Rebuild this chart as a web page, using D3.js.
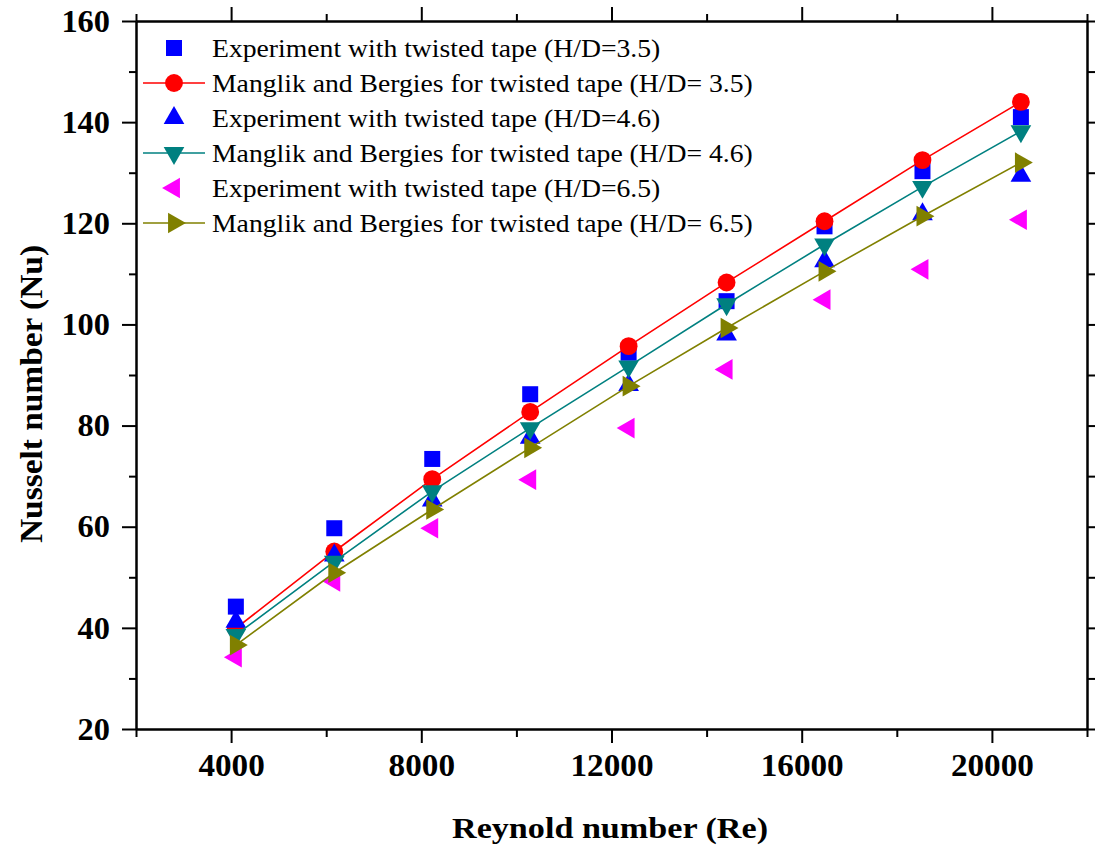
<!DOCTYPE html>
<html>
<head>
<meta charset="utf-8">
<script src="https://cdn.jsdelivr.net/npm/d3@7"></script>
<style>
  html, body { margin: 0; padding: 0; background: #fff; }
  svg { display: block; }
</style>
</head>
<body>
<svg id="chart" width="1095" height="845"></svg>
<script>
// Reynolds numbers of the nine test runs
const reynolds = [4100, 6170, 8230, 10290, 12360, 14420, 16480, 18540, 20610];

// Nusselt numbers, measured and from the Manglik & Bergles correlation
const expHD35 = [44.2, 59.7, 73.4, 86.2, 94.4, 104.6, 119.4, 130.3, 141.0];
const manHD35 = [39.9, 55.1, 69.4, 82.7, 95.7, 108.3, 120.4, 132.5, 144.0];
const expHD46 = [41.2, 54.3, 65.2, 77.6, 88.0, 98.0, 112.5, 121.8, 129.4];
const manHD46 = [38.6, 53.1, 67.0, 79.5, 91.7, 104.0, 115.8, 127.2, 138.2];
const expHD65 = [34.2, 49.2, 59.7, 69.3, 79.5, 91.1, 104.9, 110.9, 120.7];
const manHD65 = [36.6, 50.9, 63.4, 75.6, 87.8, 99.3, 110.5, 121.4, 132.0];

const seriesNames = [
  "Experiment with twisted tape (H/D=3.5)",
  "Manglik and Bergies for twisted tape (H/D= 3.5)",
  "Experiment with twisted tape (H/D=4.6)",
  "Manglik and Bergies for twisted tape (H/D= 4.6)",
  "Experiment with twisted tape (H/D=6.5)",
  "Manglik and Bergies for twisted tape (H/D= 6.5)"
];

const xMajorTicks = [4000, 8000, 12000, 16000, 20000];
const xMinorTicks = [2000, 6000, 10000, 14000, 18000, 22000];
const yMajorTicks = [20, 40, 60, 80, 100, 120, 140, 160];
const yMinorTicks = [30, 50, 70, 90, 110, 130, 150];

const xTitle = "Reynold number (Re)";
const yTitle = "Nusselt number (Nu)";

// Series styling: marker shape, colour, whether points are joined by a line
const series = [
  { name: seriesNames[0], values: expHD35, shape: "square", color: "#0000ff", line: false },
  { name: seriesNames[1], values: manHD35, shape: "circle", color: "#ff0000", line: true },
  { name: seriesNames[2], values: expHD46, shape: "up", color: "#0000ff", line: false },
  { name: seriesNames[3], values: manHD46, shape: "down", color: "#008080", line: true },
  { name: seriesNames[4], values: expHD65, shape: "left", color: "#ff00ff", line: false },
  { name: seriesNames[5], values: manHD65, shape: "right", color: "#808000", line: true }
];

const margin = { left: 136, right: 8, top: 21, bottom: 116 };
const W = 1095, H = 845;
const svg = d3.select("#chart");
const innerW = W - margin.left - margin.right;
const innerH = H - margin.top - margin.bottom;

const x = d3.scaleLinear().domain([2000, 22000]).range([0, innerW]);
const y = d3.scaleLinear().domain([20, 160]).range([innerH, 0]);

const g = svg.append("g").attr("transform", `translate(${margin.left},${margin.top})`);

const serif = "'Liberation Serif', 'Times New Roman', serif";

// Marker generator
function markerPath(shape) {
  const tri = d3.symbol().type(d3.symbolTriangle).size(185)();
  switch (shape) {
    case "square": return { d: d3.symbol().type(d3.symbolSquare).size(256)(), rot: 0 };
    case "circle": return { d: d3.symbol().type(d3.symbolCircle).size(250)(), rot: 0 };
    case "up": return { d: tri, rot: 0 };
    case "down": return { d: tri, rot: 180 };
    case "left": return { d: tri, rot: -90 };
    case "right": return { d: tri, rot: 90 };
  }
}

// Axes: major ticks with labels, minor ticks without, mirrored on top and right
function styleAxis(sel) {
  sel.selectAll("path.domain").attr("stroke", "#000").attr("stroke-width", 2);
  sel.selectAll(".tick line").attr("stroke", "#000").attr("stroke-width", 2);
  sel.selectAll("text").attr("font-family", serif).attr("font-weight", "bold")
    .attr("font-size", 32).attr("fill", "#000");
}

g.append("g").attr("transform", `translate(0,${innerH})`)
  .call(d3.axisBottom(x).tickValues(xMinorTicks).tickSize(8).tickFormat("").tickSizeOuter(0))
  .call(styleAxis);
g.append("g").attr("transform", `translate(0,${innerH})`)
  .call(d3.axisBottom(x).tickValues(xMajorTicks).tickSize(14).tickPadding(10).tickFormat(d3.format("d")).tickSizeOuter(0))
  .call(styleAxis)
  .selectAll("text").attr("textLength", d => String(d).length * 16.6).attr("lengthAdjust", "spacingAndGlyphs");
g.append("g").call(d3.axisTop(x).tickValues(xMinorTicks).tickSize(7).tickFormat("").tickSizeOuter(0)).call(styleAxis);
g.append("g").call(d3.axisTop(x).tickValues(xMajorTicks).tickSize(14).tickFormat("").tickSizeOuter(0)).call(styleAxis);

g.append("g").call(d3.axisLeft(y).tickValues(yMinorTicks).tickSize(7).tickFormat("").tickSizeOuter(0)).call(styleAxis);
g.append("g").call(d3.axisLeft(y).tickValues(yMajorTicks).tickSize(14).tickPadding(12).tickFormat(d3.format("d")).tickSizeOuter(0))
  .call(styleAxis)
  .selectAll("text").attr("textLength", d => String(d).length * 16.2).attr("lengthAdjust", "spacingAndGlyphs");
g.append("g").attr("transform", `translate(${innerW},0)`)
  .call(d3.axisRight(y).tickValues(yMinorTicks).tickSize(8).tickFormat("").tickSizeOuter(0)).call(styleAxis);
g.append("g").attr("transform", `translate(${innerW},0)`)
  .call(d3.axisRight(y).tickValues(yMajorTicks).tickSize(14).tickFormat("").tickSizeOuter(0)).call(styleAxis);

// Data series, drawn in legend order
const lineGen = d3.line().x((d, i) => x(reynolds[i])).y(d => y(d));
series.forEach(s => {
  const sg = g.append("g");
  if (s.line) {
    sg.append("path").datum(s.values).attr("d", lineGen)
      .attr("fill", "none").attr("stroke", s.color).attr("stroke-width", 1.6);
  }
  const m = markerPath(s.shape);
  sg.selectAll("path.pt").data(s.values).join("path").attr("class", "pt")
    .attr("d", m.d)
    .attr("transform", (d, i) => `translate(${x(reynolds[i])},${y(d)}) rotate(${m.rot})`)
    .attr("fill", s.color);
});

// Legend (text is set slightly wide)
const legend = svg.append("g");
series.forEach((s, i) => {
  const cy = 48 + i * 35;
  const row = legend.append("g");
  if (s.line) {
    row.append("line").attr("x1", 143).attr("x2", 205).attr("y1", cy).attr("y2", cy)
      .attr("stroke", s.color).attr("stroke-width", 1.6);
  }
  const m = markerPath(s.shape);
  row.append("path").attr("d", m.d)
    .attr("transform", `translate(174,${cy}) rotate(${m.rot})`).attr("fill", s.color);
  row.append("text").attr("transform", `translate(212,${cy + 9}) scale(1.065,1)`)
    .attr("font-family", serif).attr("font-size", 26).attr("fill", "#000")
    .text(s.name);
});

// Axis titles
svg.append("text").attr("x", 610).attr("y", 838)
  .attr("text-anchor", "middle").attr("font-family", serif).attr("font-weight", "bold")
  .attr("font-size", 30).attr("textLength", 316).attr("lengthAdjust", "spacingAndGlyphs")
  .text(xTitle);
svg.append("text").attr("transform", `translate(42,394) rotate(-90)`)
  .attr("text-anchor", "middle").attr("font-family", serif).attr("font-weight", "bold")
  .attr("font-size", 31).attr("textLength", 298).attr("lengthAdjust", "spacingAndGlyphs")
  .text(yTitle);
</script>
</body>
</html>
